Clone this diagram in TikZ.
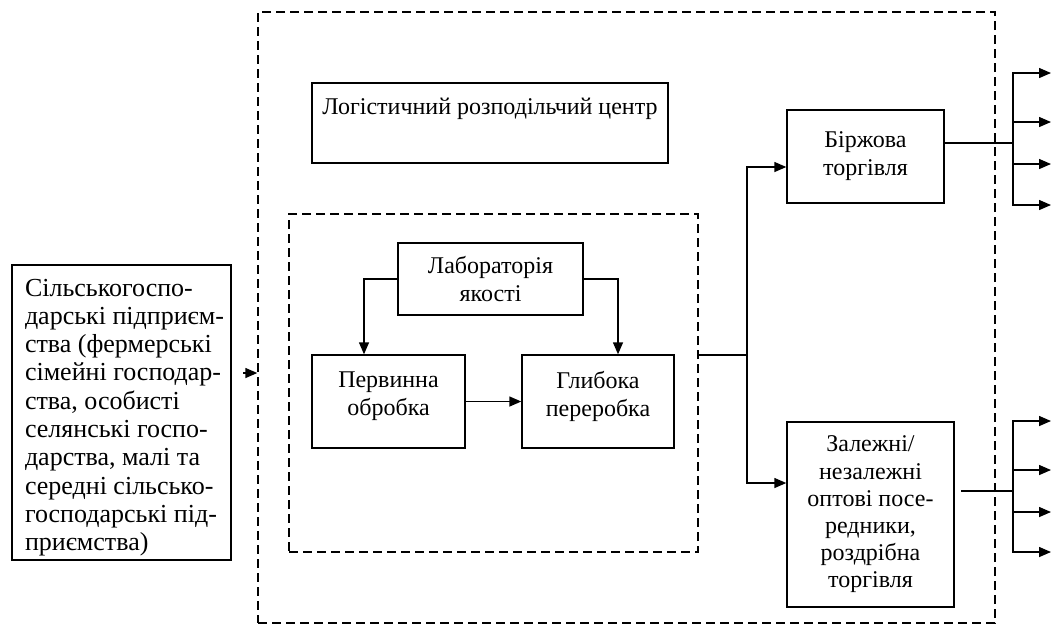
\documentclass[tikz,border=0pt]{standalone}
\usepackage{fontspec}
\setmainfont{Liberation Serif}
\usetikzlibrary{arrows.meta,calc}
\begin{document}
\begin{tikzpicture}[x=0.5pt,y=-0.5pt,
  txt/.style={font=\fontsize{12}{14}\selectfont},
  box/.style={draw,line width=0.7pt,inner sep=0pt,align=center,txt},
  dbox/.style={draw,line width=0.7pt,dash pattern=on 4.5pt off 2.5pt,inner sep=0pt},
  arr/.style={line width=0.7pt,-{Triangle[length=6pt,width=5pt]}},
  ln/.style={line width=0.7pt}]
\useasboundingbox (0,0) rectangle (1052,628);

\node[dbox,minimum width=368.5pt,minimum height=305.5pt] (outer) at (626.5,317.5) {};
\node[box,minimum width=178pt,minimum height=40pt,
  label={[txt,anchor=center,yshift=-13.5pt]north:Логістичний розподільчий центр}] (logc) at (490,123) {};
\node[dbox,minimum width=204.5pt,minimum height=169pt] (inner) at (493.5,383) {};
\node[box,minimum width=92.5pt,minimum height=36pt] (lab) at (490.5,279) {Лабораторія\\якості};
\node[box,minimum width=76.5pt,minimum height=46.5pt,text depth=8pt] (prim) at (388.5,401.5) {Первинна\\обробка};
\node[box,minimum width=76pt,minimum height=46.5pt,text depth=8pt] (deep) at (598,401.5) {Глибока\\переробка};
\node[box,minimum width=78.5pt,minimum height=46.5pt] (birzh) at (865.5,156.5) {Біржова\\торгівля};
\node[box,minimum width=83.5pt,minimum height=92.5pt,font=\fontsize{12}{13.6}\selectfont] (zal) at (870.5,514.5) {Залежні/\\незалежні\\оптові посе-\\редники,\\роздрібна\\торгівля};
\node[box,minimum width=109.5pt,minimum height=147.5pt,
  label={[align=left,anchor=center,yshift=-2.5pt,xshift=1.5pt,font=\fontsize{13}{14.15}\selectfont]center:Сільськогоспо-\\дарські підприєм-\\ства (фермерські\\сімейні господар-\\ства, особисті\\селянські госпо-\\дарства, малі та\\середні сільсько-\\господарські під-\\приємства)}] (left) at (121.5,412.5) {};

\coordinate (a0) at (243,373);
\draw[arr] (a0) -- (a0 -| outer.west);
\draw[arr] (lab.west) -| ($(prim.north)+(-24.5,0)$);
\draw[arr] (lab.east) -| ($(deep.north)+(20,0)$);
\draw[arr] (prim.east) -- (deep.west);

\coordinate (j) at (747,355);
\draw[ln] (inner.east |- j) -- (j);
\draw[arr] (j) |- ($(birzh.west)+(0,10.5)$);
\draw[arr] (j) |- ($(zal.west)+(0,-31.5)$);

\coordinate (b) at (1013,143);
\draw[ln] (birzh.east |- b) -- (b);
\foreach \yy [count=\i] in {73,122,164,205} {
  \coordinate (bo\i) at (1051,\yy);
  \draw[arr] (b) |- (bo\i);
}
\coordinate (z0) at (961,491);
\coordinate (z) at (1013,491);
\draw[ln] (z0) -- (z);
\foreach \yy [count=\i] in {421,470,512,552} {
  \coordinate (zo\i) at (1051,\yy);
  \draw[arr] (z) |- (zo\i);
}
\end{tikzpicture}
\end{document}
